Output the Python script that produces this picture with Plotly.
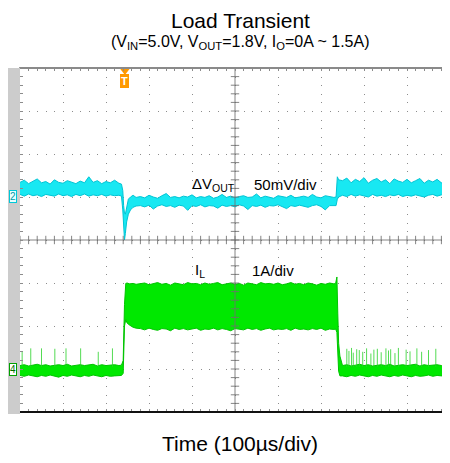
import plotly.graph_objects as go

# ---------------- data (screen divisions: x in µs, 100 µs/div; y in div, 0..8) -------------
# Channel 2 (ΔVOUT, cyan) envelope segments
ch2_t_pre = [0, 10, 20, 30, 40, 50, 60, 70, 80, 90, 100, 110, 120, 130, 140, 150, 160, 170, 180, 190, 200, 210, 220, 230]
ch2_hi_pre = [5.34, 5.39, 5.31, 5.37, 5.42, 5.33, 5.36, 5.30, 5.40, 5.34, 5.32, 5.38, 5.35, 5.31, 5.37, 5.33, 5.47, 5.34, 5.38, 5.31, 5.36, 5.33, 5.39, 5.32]
ch2_lo_pre = [5.06, 5.02, 5.07, 5.03, 5.05, 5.01, 5.06, 5.04, 5.02, 5.07, 5.03, 5.05, 5.01, 5.06, 5.03, 5.07, 5.02, 5.05, 5.03, 5.06, 5.02, 5.05, 5.03, 5.04]

ch2_t_dip = [236, 239, 241, 243, 245, 248, 252, 257, 263, 270]
ch2_hi_dip = [5.30, 5.15, 4.80, 4.62, 4.60, 4.80, 4.95, 5.00, 5.04, 4.99]
ch2_lo_dip = [5.02, 4.70, 4.25, 4.00, 4.15, 4.42, 4.60, 4.70, 4.76, 4.79]

ch2_t_load = [280, 290, 300, 310, 320, 330, 340, 350, 360, 370, 380, 390, 400, 410, 420, 430, 440, 450, 460, 470,
              480, 490, 500, 510, 520, 530, 540, 550, 560, 570, 580, 590, 600, 610, 620, 630, 640, 650, 660, 670,
              680, 690, 700, 710, 720, 730]
ch2_hi_load = [5.01, 4.98, 5.04, 5.00, 4.97, 5.03, 5.08, 4.99, 5.01, 4.98, 5.02, 5.00, 5.05, 4.98, 5.01, 4.99, 5.03, 4.97, 5.00, 5.06,
               4.99, 5.02, 4.98, 5.01, 5.03, 4.99, 5.00, 5.07, 4.98, 5.02, 5.00, 4.97, 5.03, 5.01, 4.99, 5.04, 4.98, 5.00, 5.02, 4.99,
               5.06, 5.00, 4.98, 5.03, 5.01, 4.99]
ch2_lo_load = [4.80, 4.77, 4.81, 4.72, 4.79, 4.82, 4.78, 4.80, 4.76, 4.81, 4.79, 4.69, 4.80, 4.78, 4.82, 4.77, 4.80, 4.79, 4.74, 4.81,
               4.78, 4.80, 4.77, 4.82, 4.79, 4.71, 4.80, 4.78, 4.81, 4.76, 4.80, 4.79, 4.82, 4.77, 4.73, 4.80, 4.78, 4.81, 4.79, 4.76,
               4.80, 4.82, 4.78, 4.70, 4.80, 4.79]

ch2_t_rel = [735, 738, 741]
ch2_hi_rel = [5.00, 5.47, 5.40]
ch2_lo_rel = [4.80, 4.95, 5.00]

ch2_t_post = [750, 760, 770, 780, 790, 800, 810, 820, 830, 840, 850, 860, 870, 880, 890, 900, 910, 920, 930, 940,
              950, 960, 970, 980, 990, 1000]
ch2_hi_post = [5.38, 5.44, 5.33, 5.41, 5.36, 5.45, 5.32, 5.39, 5.43, 5.35, 5.40, 5.31, 5.42, 5.37, 5.34, 5.41, 5.33, 5.38, 5.43, 5.32,
               5.39, 5.35, 5.41, 5.33, 5.37, 5.34]
ch2_lo_post = [5.04, 5.01, 5.06, 5.02, 5.05, 5.03, 5.00, 5.06, 5.02, 5.04, 5.01, 5.05, 5.03, 5.06, 5.01, 5.04, 5.02, 5.05, 5.03, 5.00,
               5.04, 5.06, 5.02, 5.05, 5.03, 5.04]

# Channel 4 (IL, green) envelope segments
ch4_t_pre = [0, 10, 20, 30, 40, 50, 60, 70, 80, 90, 100, 110, 120, 130, 140, 150, 160, 170, 180, 190, 200, 210, 220, 230]
ch4_hi_pre = [1.08, 1.10, 1.07, 1.09, 1.11, 1.08, 1.10, 1.07, 1.09, 1.10, 1.08, 1.11, 1.07, 1.09, 1.10, 1.08, 1.09, 1.11, 1.07, 1.10, 1.08, 1.09, 1.10, 1.08]
ch4_lo_pre = [0.85, 0.83, 0.86, 0.84, 0.82, 0.85, 0.83, 0.86, 0.84, 0.81, 0.85, 0.83, 0.86, 0.84, 0.82, 0.85, 0.83, 0.86, 0.84, 0.82, 0.85, 0.83, 0.84, 0.85]

ch4_t_rise = [236, 240, 243, 246, 249, 255, 263, 270]
ch4_hi_rise = [1.09, 1.20, 2.50, 2.99, 3.00, 2.98, 2.99, 2.97]
ch4_lo_rise = [0.85, 0.90, 2.00, 2.15, 2.07, 2.02, 1.97, 1.95]

ch4_t_load = ch2_t_load
ch4_hi_load = [2.98, 3.00, 2.96, 2.99, 3.01, 2.97, 2.99, 2.95, 3.00, 2.98, 2.96, 3.01, 2.98, 2.99, 2.96, 3.00, 2.97, 2.99, 3.01, 2.96,
               2.98, 3.00, 2.97, 2.99, 2.95, 3.00, 2.98, 2.96, 3.01, 2.98, 2.99, 2.97, 3.00, 2.96, 2.98, 3.01, 2.97, 2.99, 2.96, 3.00,
               2.98, 2.95, 2.99, 2.97, 3.00, 2.98]
ch4_lo_load = [1.94, 1.91, 1.95, 1.92, 1.90, 1.94, 1.93, 1.89, 1.95, 1.92, 1.94, 1.91, 1.93, 1.95, 1.90, 1.93, 1.92, 1.95, 1.91, 1.94,
               1.92, 1.89, 1.94, 1.93, 1.91, 1.95, 1.92, 1.94, 1.90, 1.93, 1.95, 1.91, 1.93, 1.92, 1.94, 1.90, 1.95, 1.92, 1.93, 1.91,
               1.94, 1.92, 1.95, 1.90, 1.93, 1.92]

ch4_t_fall = [734, 737, 739, 741, 744]
ch4_hi_fall = [2.99, 3.14, 2.30, 1.60, 1.30]
ch4_lo_fall = [1.93, 1.85, 1.20, 0.95, 0.84]

ch4_t_post = ch2_t_post
ch4_hi_post = [1.08, 1.10, 1.07, 1.09, 1.11, 1.08, 1.10, 1.07, 1.09, 1.10, 1.08, 1.11, 1.07, 1.09, 1.10, 1.08, 1.09, 1.11, 1.07, 1.10,
               1.08, 1.09, 1.10, 1.08, 1.07, 1.09]
ch4_lo_post = [0.84, 0.82, 0.85, 0.83, 0.86, 0.84, 0.82, 0.85, 0.83, 0.86, 0.84, 0.82, 0.85, 0.83, 0.86, 0.84, 0.82, 0.85, 0.83, 0.84,
               0.86, 0.83, 0.85, 0.84, 0.82, 0.85]

# switching spikes on the light-load inductor current
spike_t = [5, 25, 50, 81, 107, 141, 182, 215,
           760, 765, 771, 775, 783, 789, 797, 806, 816, 823, 831, 840, 851, 857, 862, 872, 880, 898, 907, 923, 934, 950, 967, 984]
spike_v = [1.40, 1.48, 1.48, 1.47, 1.48, 1.48, 1.40, 1.48,
           1.47, 1.42, 1.49, 1.38, 1.46, 1.44, 1.40, 1.48, 1.36, 1.45, 1.47, 1.39, 1.48, 1.43, 1.46, 1.37, 1.49, 1.45, 1.41, 1.48,
           1.40, 1.44, 1.47, 1.38]
spike_base = 1.05

# markers
ch2_ref = 5.02
ch4_ref = 0.98
trig_t = 244
ch4_arrow = (993, 1.60)

CYAN_FILL = "rgb(24,232,242)"
CYAN_EDGE = "rgb(0,196,212)"
GREEN_FILL = "rgb(0,232,0)"
GREEN_EDGE = "rgb(0,196,0)"
FONT = "Arial, Liberation Sans, sans-serif"

fig = go.Figure()

def band(t, hi, lo, fill, edge):
    fig.add_trace(go.Scatter(x=t, y=hi, mode="lines", line=dict(color=edge, width=1), hoverinfo="skip"))
    fig.add_trace(go.Scatter(x=t, y=lo, mode="lines", line=dict(color=edge, width=1), fill="tonexty",
                             fillcolor=fill, hoverinfo="skip"))

band(ch2_t_pre + ch2_t_dip + ch2_t_load + ch2_t_rel + ch2_t_post,
     ch2_hi_pre + ch2_hi_dip + ch2_hi_load + ch2_hi_rel + ch2_hi_post,
     ch2_lo_pre + ch2_lo_dip + ch2_lo_load + ch2_lo_rel + ch2_lo_post, CYAN_FILL, CYAN_EDGE)

band(ch4_t_pre + ch4_t_rise + ch4_t_load + ch4_t_fall + ch4_t_post,
     ch4_hi_pre + ch4_hi_rise + ch4_hi_load + ch4_hi_fall + ch4_hi_post,
     ch4_lo_pre + ch4_lo_rise + ch4_lo_load + ch4_lo_fall + ch4_lo_post, GREEN_FILL, GREEN_EDGE)

sx, sy = [], []
for t, v in zip(spike_t, spike_v):
    sx += [t, t, None]
    sy += [spike_base, v, None]
fig.add_trace(go.Scatter(x=sx, y=sy, mode="lines", line=dict(color="rgba(40,210,40,0.8)", width=1), hoverinfo="skip"))

# centre graticule lines with minor ticks
GC = "rgba(110,110,110,0.85)"
fig.add_trace(go.Scatter(x=[500, 500], y=[0, 8], mode="lines", line=dict(color=GC, width=1), hoverinfo="skip"))
fig.add_trace(go.Scatter(x=[0, 1000], y=[4, 4], mode="lines", line=dict(color=GC, width=1), hoverinfo="skip"))
hx = [i * 20 for i in range(51)]
fig.add_trace(go.Scatter(x=hx, y=[4] * len(hx), mode="markers",
                         marker=dict(symbol="line-ns", size=6, line=dict(color=GC, width=1)), hoverinfo="skip"))
vy = [i * 0.2 for i in range(41)]
fig.add_trace(go.Scatter(x=[500] * len(vy), y=vy, mode="markers",
                         marker=dict(symbol="line-ew", size=6, line=dict(color=GC, width=1)), hoverinfo="skip"))

# trigger marker and ch4 right arrow
fig.add_trace(go.Scatter(x=[trig_t], y=[7.93], mode="markers", cliponaxis=False,
                         marker=dict(symbol="triangle-down", size=8, color="#FF9900"), hoverinfo="skip"))
fig.add_trace(go.Scatter(x=[ch4_arrow[0]], y=[ch4_arrow[1]], mode="markers", cliponaxis=False,
                         marker=dict(symbol="triangle-left", size=8, color="#00C000"), hoverinfo="skip"))

axis_common = dict(showticklabels=False, zeroline=False, fixedrange=True,
                   showgrid=True, gridcolor="#8c8c8c", gridwidth=1, griddash="1px,7.6px",
                   ticks="inside", ticklen=3, tickcolor="#8c8c8c", mirror="allticks",
                   showline=True, linewidth=1)
fig.update_xaxes(range=[0, 1000], dtick=100, tick0=0, linecolor="#999999",
                 minor=dict(dtick=20, ticks="inside", ticklen=3, tickcolor="#8c8c8c", showgrid=False), **axis_common)
fig.update_yaxes(range=[0, 8], dtick=1, tick0=0, linecolor="#666666",
                 minor=dict(dtick=0.2, ticks="inside", ticklen=3, tickcolor="#8c8c8c", showgrid=False), **axis_common)

shapes = [
    dict(type="rect", xref="paper", yref="paper", x0=-0.0279, x1=0, y0=-0.006, y1=1.0,
         fillcolor="#CCCCCC", line=dict(width=0)),
    dict(type="line", xref="paper", yref="paper", x0=0, x1=1, y0=0, y1=0, line=dict(color="#111111", width=2)),
    dict(type="line", xref="paper", yref="paper", x0=0, x1=1, y0=1, y1=1, line=dict(color="#8a8a8a", width=2)),
]

ann = [
    dict(text="Load Transient", x=0.512, y=1.1395, xref="paper", yref="paper", showarrow=False,
         font=dict(size=21, color="#000000", family=FONT), xanchor="center", yanchor="middle"),
    dict(text="(V<sub>IN</sub>=5.0V, V<sub>OUT</sub>=1.8V, I<sub>O</sub>=0A ~ 1.5A)", x=0.512, y=1.0727,
         xref="paper", yref="paper", showarrow=False, font=dict(size=16, color="#000000", family=FONT),
         xanchor="center", yanchor="middle"),
    dict(text="Time (100µs/div)", x=0.512, y=-0.092, xref="paper", yref="paper", showarrow=False,
         font=dict(size=21, color="#000000", family=FONT), xanchor="center", yanchor="middle"),
    dict(text="ΔV<sub>OUT</sub>", x=395, y=5.29, xref="x", yref="y", showarrow=False,
         font=dict(size=15, color="#000000", family=FONT), xanchor="left", yanchor="middle"),
    dict(text="50mV/div", x=540, y=5.29, xref="x", yref="y", showarrow=False,
         font=dict(size=15, color="#000000", family=FONT), xanchor="left", yanchor="middle"),
    dict(text="I<sub>L</sub>", x=402, y=3.30, xref="x", yref="y", showarrow=False,
         font=dict(size=15, color="#000000", family=FONT), xanchor="left", yanchor="middle"),
    dict(text="1A/div", x=535, y=3.30, xref="x", yref="y", showarrow=False,
         font=dict(size=15, color="#000000", family=FONT), xanchor="left", yanchor="middle"),
    dict(text="2", x=-0.016, y=ch2_ref, xref="paper", yref="y", showarrow=False,
         font=dict(size=10, color="#009AAA", family=FONT), bgcolor="#E8FFFF", bordercolor="#00C8D8",
         borderwidth=1, borderpad=0, xanchor="center", yanchor="middle"),
    dict(text="4", x=-0.016, y=ch4_ref, xref="paper", yref="y", showarrow=False,
         font=dict(size=10, color="#007000", family=FONT), bgcolor="#FFFFFF", bordercolor="#00A000",
         borderwidth=1, borderpad=0, xanchor="center", yanchor="middle"),
    dict(text="<b>T</b>", x=trig_t, y=7.70, xref="x", yref="y", showarrow=False,
         font=dict(size=11, color="#FFFFFF", family=FONT), bgcolor="#FF9900", bordercolor="#FF9900",
         borderwidth=1, borderpad=0, xanchor="center", yanchor="middle"),
]

# page body adds an 8 px offset, so margins are reduced by 8 px on the left/top
fig.update_layout(width=450, height=463, margin=dict(l=12, r=8, t=60, b=59),
                  plot_bgcolor="#FFFFFF", paper_bgcolor="#FFFFFF", showlegend=False,
                  shapes=shapes, annotations=ann, font=dict(family=FONT))

fig.write_html("out.html", config={"displayModeBar": False})
